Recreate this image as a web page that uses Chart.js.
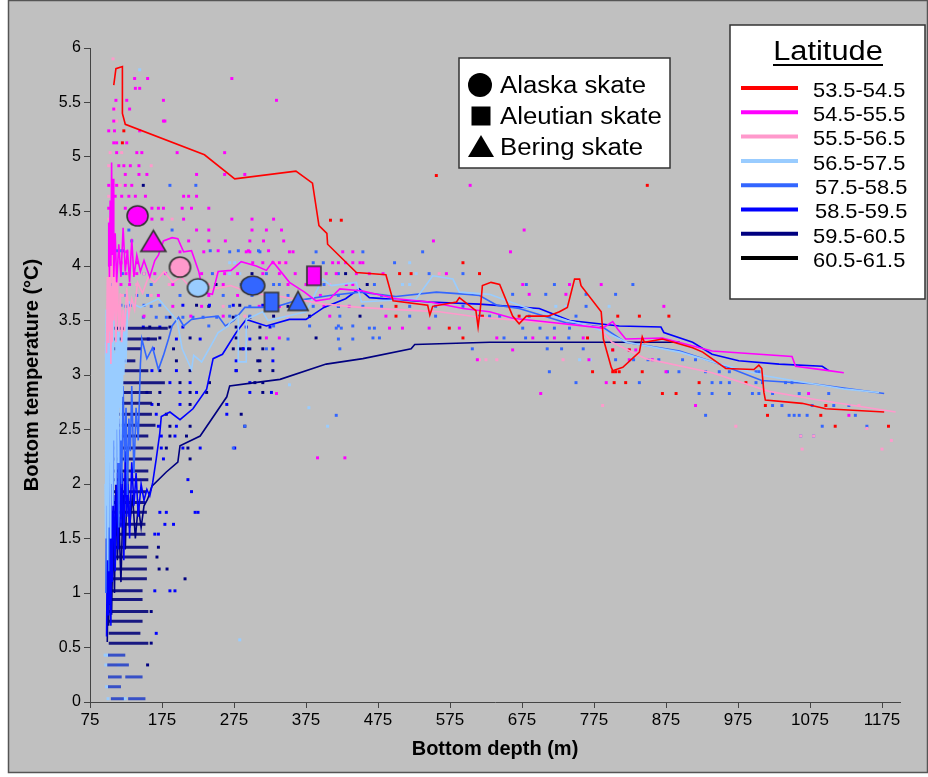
<!DOCTYPE html>
<html>
<head>
<meta charset="utf-8">
<script src="https://cdn.jsdelivr.net/npm/chart.js@4.4.0/dist/chart.umd.min.js"></script>
<style>
  html, body { margin: 0; padding: 0; background: #fff; }
  #chartBox { width: 928px; height: 777px; }
</style>
</head>
<body>
<div id="chartBox"><canvas id="skateChart" width="928" height="777"></canvas></div>
<script>
// ---- axis ticks ----
const depthTicks = [75, 175, 275, 375, 475, 575, 675, 775, 875, 975, 1075, 1175];

// ---- latitude bands ----
const latitudes = ['53.5-54.5', '54.5-55.5', '55.5-56.5', '56.5-57.5', '57.5-58.5', '58.5-59.5', '59.5-60.5', '60.5-61.5'];
const latColors = ['#ff0000', '#ff00ff', '#ff99cc', '#99ccff', '#3366ff', '#0000ff', '#000080', '#000000'];

// ---- running lines, [depth, temperature] ----
const lat53 = [[108,5.66],[111,5.81],[120,5.83],[120,5.40],[124,5.30],[234,5.02],[276,4.80],[361,4.87],[384,4.76],[393,4.37],[404,4.30],[405,4.20],[445,3.94],[486,3.92],[496,3.68],[544,3.64],[547,3.55],[551,3.63],[584,3.67],[588,3.71],[611,3.59],[614,3.44],[617,3.60],[620,3.82],[632,3.85],[644,3.83],[662,3.54],[671,3.47],[681,3.54],[711,3.54],[727,3.58],[738,3.62],[748,3.88],[755,3.88],[757,3.82],[785,3.58],[788,3.33],[799,3.07],[801,3.04],[815,3.07],[838,3.21],[842,3.35],[845,3.30],[870,3.33],[912,3.25],[926,3.21],[958,3.06],[997,3.05],[1004,3.09],[1008,3.06],[1011,2.84],[1013,2.77],[1064,2.74],[1097,2.69],[1178,2.66]];
const lat54 = [[100,4.0],[101,4.4],[102,3.9],[103,4.6],[104,4.0],[105,4.95],[106,4.1],[107,4.8],[108,3.9],[110,4.3],[112,3.85],[115,4.2],[118,3.9],[121,4.35],[124,3.95],[127,4.15],[130,3.85],[133,4.25],[136,3.9],[140,4.1],[145,3.95],[150,4.05],[158,3.9],[165,4.05],[170,4.10],[177,4.23],[189,4.26],[197,4.25],[205,4.13],[216,4.14],[226,3.95],[232,3.76],[245,3.74],[253,3.95],[271,3.96],[285,4.04],[306,4.0],[320,3.96],[329,4.04],[352,3.85],[373,3.76],[389,3.68],[408,3.70],[422,3.79],[454,3.77],[500,3.70],[547,3.67],[593,3.61],[630,3.58],[662,3.52],[720,3.48],[787,3.43],[801,3.49],[808,3.42],[819,3.33],[870,3.34],[939,3.22],[1050,3.17],[1055,3.08],[1101,3.04],[1122,3.02]];
const lat55 = [[98,3.2],[99,3.9],[100,3.3],[101,4.1],[102,3.4],[103,4.0],[104,3.1],[105,3.8],[106,3.3],[107,4.2],[108,3.5],[110,4.0],[111,3.3],[113,3.9],[115,3.4],[117,3.75],[119,3.3],[121,3.6],[123,3.4],[126,3.8],[129,3.55],[133,3.7],[137,3.6],[141,3.85],[148,3.75],[156,3.9],[165,3.85],[178,3.95],[190,3.85],[201,3.9],[215,3.8],[240,3.78],[270,3.82],[300,3.75],[340,3.72],[400,3.65],[450,3.62],[500,3.60],[560,3.58],[616,3.53],[708,3.48],[782,3.44],[800,3.30],[847,3.15],[939,3.02],[1018,2.85],[1078,2.78],[1194,2.66]];
const lat56 = [[96,2.0],[96.5,3.3],[97,1.5],[97.5,3.6],[98,1.8],[99,3.4],[99.5,1.3],[100,3.0],[101,1.6],[101.5,3.6],[102,2.2],[103,3.2],[103.5,1.5],[104,3.5],[105,2.0],[106,3.3],[106.5,1.8],[107,3.6],[108,2.4],[109,3.2],[110,2.0],[111,3.5],[112,2.5],[113,3.4],[114,2.2],[115,3.6],[116,2.7],[117,3.3],[118,2.4],[119,3.5],[120,2.8],[121,3.4],[122,3.0],[124,3.6],[125,3.1],[127,3.55],[129,3.67],[145,3.62],[170,3.70],[196,3.50],[203,3.24],[216,3.05],[219,3.18],[230,3.12],[244,3.28],[253,3.39],[267,3.45],[269,3.48],[281,3.54],[281,3.12],[292,3.12],[292,3.51],[315,3.58],[322,3.50],[375,3.58],[398,3.88],[410,3.82],[445,3.85],[452,3.67],[528,3.70],[551,3.91],[579,3.88],[588,3.76],[630,3.74],[680,3.62],[738,3.50],[770,3.45],[801,3.36],[821,3.30],[894,3.21],[950,3.10],[1014,2.99],[1124,2.87],[1171,2.84]];
const lat57 = [[97,1.0],[98,2.2],[99,1.4],[100,2.6],[101,1.2],[102,2.7],[103,1.5],[105,2.9],[107,1.8],[109,3.0],[111,2.1],[113,2.8],[115,1.6],[117,2.6],[119,2.0],[121,2.9],[123,2.2],[125,2.7],[127,1.9],[129,2.6],[131,2.3],[133,2.9],[136,2.1],[139,2.7],[142,2.4],[145,3.1],[147,3.33],[154,3.15],[162,3.25],[170,3.05],[177,3.18],[184,3.33],[189,3.45],[198,3.53],[205,3.45],[216,3.51],[237,3.53],[253,3.54],[263,3.45],[275,3.50],[290,3.62],[330,3.62],[360,3.68],[408,3.73],[450,3.76],[500,3.72],[556,3.76],[600,3.74],[616,3.73],[640,3.64],[671,3.61],[736,3.48],[787,3.44],[819,3.30],[894,3.22],[949,3.10],[1008,2.95],[1078,2.92],[1178,2.83]];
const lat58 = [[98,0.6],[99,1.4],[100,0.8],[101,1.8],[102,0.9],[103,1.6],[104,0.7],[105,2.0],[106,1.1],[108,1.9],[110,1.2],[112,2.2],[114,1.4],[116,2.5],[118,1.6],[120,2.1],[122,1.3],[124,2.3],[126,1.7],[128,2.0],[130,1.5],[133,2.2],[136,1.8],[139,2.1],[142,1.7],[146,2.0],[150,1.85],[154,1.95],[158,1.89],[162,2.01],[167,2.23],[172,2.47],[174,2.62],[186,2.66],[200,2.59],[218,2.69],[237,2.87],[246,3.15],[259,3.19],[278,3.39],[292,3.51],[320,3.45],[352,3.51],[375,3.51],[400,3.62],[430,3.70],[449,3.79],[463,3.71],[547,3.67],[616,3.65],[699,3.61],[741,3.50],[810,3.45],[868,3.44],[872,3.39],[912,3.30],[939,3.19],[976,3.13],[1032,3.10],[1092,3.08],[1101,3.04]];
const lat59 = [[99,0.55],[100,1.2],[101,0.7],[102,1.5],[103,0.9],[104,1.8],[105,0.8],[107,1.6],[109,1.0],[111,2.0],[113,1.3],[115,1.7],[118,1.1],[121,1.9],[124,1.4],[127,2.1],[130,1.6],[134,1.9],[138,1.5],[142,1.8],[146,1.6],[150,1.8],[155,1.86],[161,1.98],[181,2.11],[197,2.20],[200,2.35],[228,2.44],[265,2.80],[269,2.90],[304,2.93],[339,2.96],[403,3.10],[454,3.15],[521,3.24],[526,3.28],[630,3.30],[894,3.30]];
const lat60 = [];

// ---- single tows, rows of [temperature, [depths]] ----
const dots53 = [[5.24,[122]],[5.13,[120]],[4.83,[556]],[4.74,[849]],[4.42,[409,424]],[4.03,[593]],[3.93,[505,521,616]],[3.63,[500]],[3.54,[500,620,671,808,838,879]],[3.43,[574]],[3.34,[593,766]],[3.23,[801,824]],[3.03,[773,801,805,810,842]],[2.93,[803,819,921,986]],[2.83,[870,889]],[2.72,[1013,1097]],[2.63,[1016,1090]],[2.53,[1110,1184]]];
const dots54 = [[6.03,[117]],[5.72,[137,155,272]],[5.63,[138,144]],[5.52,[111,126,177,334]],[5.44,[108,130]],[5.33,[108,177,179]],[5.24,[101,109,144]],[5.13,[108,112,126]],[5.04,[112,140,147,196,262]],[4.92,[115,122,131,143]],[4.84,[124,143,154,223,262,290]],[4.74,[101,112,124,133,603]],[4.64,[110,119,129,138,152,205,212,223]],[4.53,[101,124,161,170,177,203,216,240]],[4.43,[161,175,205,272,300,330]],[4.33,[223,240,300,320,341,678]],[4.23,[212,240,263,297,316,344,552]],[4.14,[106,253,295,323]],[4.13,[126,200,233,292,297,352,357,426,440,659]],[4.03,[118,125,140,301,315,329,338,347,412,420,430,440,450,454]],[3.93,[110,125,140,165,180,200,230,262,280,315,338,360,403,417,445,463,482,570]],[3.83,[118,130,190,215,260,300,350,375,431,440,676,741,785]],[3.74,[685,736]],[3.73,[170,240,280,320,395]],[3.63,[190,230,310,338,360,400,435,872]],[3.54,[150,215,260,408,486]],[3.43,[491,509,546,588]],[3.34,[320,338,640,690,720,760]],[3.23,[662,801,824,833]],[3.14,[613,768,824,856]],[3.03,[875]],[2.93,[792]],[2.83,[334,701,1073]],[2.72,[916]],[2.63,[1129]],[2.24,[391,429]]];
const dots55 = [[5.9,[107]],[5.44,[110]],[5.33,[112]],[5.04,[103,119]],[4.92,[101,160]],[4.74,[117]],[4.64,[101]],[4.43,[101,189]],[4.03,[334,343]],[3.93,[135,150,250,560]],[3.83,[140,185,240,408]],[3.73,[120,160,220]],[3.63,[260,340]],[3.54,[290,350]],[3.14,[616,625,640,732]],[2.72,[787,1143]],[2.53,[972]],[2.51,[1154]],[2.44,[1062,1080]],[2.40,[1188]],[2.32,[1064,1175]]];
const dots56 = [[5.8,[144]],[4.03,[269,276,283,519]],[3.93,[269,283,528]],[3.83,[509,519]],[3.63,[722,736,796]],[3.14,[755,770]],[2.91,[352]],[2.70,[379]],[2.53,[405]],[0.57,[283]],[0.43,[96,99]],[0.34,[97,115]],[0.14,[98]],[0.03,[100,122,124]]];
const dots57 = [[4.74,[186,222]],[4.43,[140]],[4.33,[129,189]],[4.23,[133]],[4.14,[107,112,119,121,242,281,309]],[4.13,[269,311,389,454,537]],[4.03,[385,399,498]],[3.93,[120,150,245,320,390,420,546,593]],[3.83,[106,160,230,285,330,338,400,470,681,720,829]],[3.74,[662,708,764,805]],[3.73,[110,125,140,155,200,260,300,350,420,480]],[3.64,[105,118,131,150,172]],[3.63,[125,160,269,297,330,385,420,454,480,519,555,593,764]],[3.54,[269,278,297,422,519,555,616,630,644,685,713,750]],[3.53,[149,167,181,204,218,232,251]],[3.45,[240,330,380,420,440]],[3.43,[417,424,463,470,676,700,720,741]],[3.34,[468,477,650,680,710,740]],[3.33,[350,420,440]],[3.24,[320,422,606,710,730,760]],[3.14,[805,830,850,865,898,916]],[3.03,[713,877,893,930,949,963,1000,1004]],[2.93,[750,838,939,951,963,1000,1009,1041,1050]],[2.83,[921,939,963,995,1004,1023,1060,1101]],[2.72,[1023,1036,1078,1108,1129]],[2.63,[417,930,1046,1053,1060,1071,1138]],[2.53,[290,1092,1154]],[2.44,[1062,1080]],[2.33,[274]]];
const dots58 = [[3.64,[204,241,274,315]],[3.44,[149,172,204,292,325]],[3.33,[156,195,228,297]],[3.24,[163,288,329]],[3.13,[278,329]],[3.04,[161,195,278]],[2.93,[186,214,297]],[2.84,[154,200,223,297,327]],[2.73,[161,200,265]],[2.64,[167,265]],[2.53,[170,195]],[2.44,[174,193]],[2.33,[174,204,228,276]],[2.23,[177]],[2.04,[211]],[1.93,[216]],[1.74,[172,181,221,225]],[1.63,[179,191]],[1.54,[165,170]],[1.02,[165,186,193]],[0.63,[167]]];
const dots59 = [[4.74,[149]],[3.93,[300,430]],[3.83,[250,460]],[3.64,[223,283]],[3.63,[240,350,420]],[3.54,[330,380,450]],[3.53,[186,274,297]],[3.44,[158,186,278,311]],[3.34,[172,214,278,311,389]],[3.24,[191,274,283,287,294,297,315]],[3.13,[195,308,311]],[3.04,[172,214,278,311,329]],[2.93,[200,241,304,315]],[2.84,[172,214,237,315]],[2.73,[170,214]],[2.64,[181,285]],[2.53,[186,214,290]],[2.44,[186,209]],[2.33,[181,211]],[2.23,[214]],[1.42,[170]],[1.33,[168]],[1.22,[171,182]],[1.13,[207]],[0.83,[160]],[0.54,[160]],[0.34,[155]]];

// packed runs of tows on the shelf, [temperature, first depth, last depth]
const shelfRuns = [[3.43,105,183],[3.33,105,168],[3.24,101,147],[3.13,105,138],[3.04,96,156],[2.93,96,179],[2.84,96,161],[2.74,96,161],[2.64,105,161],[2.54,105,166],[2.44,105,156],[2.33,105,163],[2.23,105,161],[2.12,105,156],[2.04,101,156],[1.93,101,153],[1.83,101,152],[1.74,101,154],[1.63,101,152],[1.54,101,152],[1.42,101,156],[1.33,101,154],[1.22,101,154],[1.13,101,154],[1.02,101,148],[0.94,101,148],[0.83,101,156],[0.74,101,148],[0.63,101,145],[0.54,101,156],[0.43,100,124],[0.34,99,129],[0.23,100,119],[0.23,124,148],[0.14,100,118],[0.03,104,122],[0.03,128,152]];

// ---- skate means ----
const skateNames = ['Alaska skate', 'Aleutian skate', 'Bering skate'];
const skateKind = ['Alaska skate', 'Bering skate', 'Alaska skate', 'Alaska skate', 'Alaska skate', 'Aleutian skate', 'Bering skate', 'Aleutian skate'];
const skateBand = [1, 1, 2, 3, 4, 4, 4, 1];
const skateDepth = [141, 163, 200, 225, 301, 327, 364, 386];
const skateTemp = [4.46, 4.23, 3.99, 3.80, 3.82, 3.67, 3.68, 3.91];

const FONT = '"Liberation Sans", Arial, sans-serif';
const NARROW = '"Liberation Sans Narrow", "Liberation Sans", Arial, sans-serif';

const toXY = arr => arr.map(([x, y]) => ({ x, y }));
const rowsToXY = rows => rows.flatMap(([t, ds]) => ds.map(d => ({ x: d, y: t })));

function markerImage(kind, band) {
    // sizes roughly as in the figure
    let w = 21, h = 20;
    if (kind === 'Aleutian skate') { w = 14; h = 19; }
    if (kind === 'Bering skate') { w = band === 1 ? 25 : 20; h = band === 1 ? 21 : 19; }
    if (kind === 'Alaska skate' && band === 3) { w = 21; h = 18; }
    if (kind === 'Alaska skate' && band === 4) { w = 24; h = 19; }
    const c = document.createElement('canvas');
    c.width = w + 4; c.height = h + 4;
    const g = c.getContext('2d');
    g.fillStyle = latColors[band];
    g.strokeStyle = '#333';
    g.lineWidth = 1.6;
    g.beginPath();
    if (kind === 'Alaska skate') {
        g.ellipse(c.width / 2, c.height / 2, w / 2, h / 2, 0, 0, Math.PI * 2);
    } else if (kind === 'Aleutian skate') {
        g.rect(2, 2, w, h);
    } else {
        g.moveTo(c.width / 2, 2);
        g.lineTo(c.width - 2, c.height - 2);
        g.lineTo(2, c.height - 2);
        g.closePath();
    }
    g.fill();
    g.stroke();
    return c;
}

const datasets = [];

datasets.push({
    label: 'skates',
    data: skateDepth.map((d, i) => ({ x: d, y: skateTemp[i] })),
    pointStyle: skateKind.map((k, i) => markerImage(k, skateBand[i])),
    pointRadius: 10,
    showLine: false,
    order: 0
});

[lat53, lat54, lat55, lat56, lat57, lat58, lat59, lat60].forEach((arr, i) => {
    datasets.push({
        label: latitudes[i],
        data: toXY(arr),
        showLine: true,
        borderColor: latColors[i],
        borderWidth: 1.6,
        pointRadius: 0,
        tension: 0,
        order: 1 + i
    });
});

shelfRuns.forEach(([t, a, b], i) => {
    datasets.push({
        label: 'run' + i,
        data: [{ x: a, y: t }, { x: b, y: t }],
        showLine: true,
        borderColor: t < 0.5 ? 'rgba(30,60,200,0.85)' : 'rgba(0,0,120,0.88)',
        borderWidth: 3,
        pointRadius: 0,
        order: 20
    });
});

[dots53, dots54, dots55, dots56, dots57, dots58, dots59].forEach((rows, i) => {
    datasets.push({
        label: 'dots ' + latitudes[i],
        data: rowsToXY(rows),
        showLine: false,
        pointStyle: 'rect',
        pointRadius: 2.1,
        pointBorderWidth: 0,
        backgroundColor: latColors[i],
        borderColor: latColors[i],
        order: 30 + i
    });
});

function stretchText(ctx, text, x, y, sx) {
    ctx.save();
    ctx.translate(x, y);
    ctx.scale(sx, 1);
    ctx.fillText(text, 0, 0);
    ctx.restore();
}

const decor = {
    id: 'decor',
    beforeDraw(chart) {
        const ctx = chart.ctx;
        ctx.save();
        ctx.fillStyle = '#ffffff';
        ctx.fillRect(0, 0, chart.width, chart.height);
        ctx.fillStyle = '#c0c0c0';
        ctx.fillRect(8, 0, chart.width - 8, 773);
        ctx.strokeStyle = '#555';
        ctx.lineWidth = 1.5;
        ctx.strokeRect(8.5, 0.5, chart.width - 9, 772);
        ctx.restore();
    },
    afterDraw(chart) {
        const ctx = chart.ctx;
        ctx.save();

        // latitude key
        ctx.fillStyle = '#fff';
        ctx.fillRect(730, 25, 195, 274);
        ctx.strokeStyle = '#333';
        ctx.lineWidth = 1.5;
        ctx.strokeRect(730, 25, 195, 274);
        ctx.fillStyle = '#000';
        ctx.font = '27px ' + FONT;
        ctx.textAlign = 'center';
        ctx.textBaseline = 'alphabetic';
        stretchText(ctx, 'Latitude', 828, 60, 1.14);
        ctx.fillRect(773, 64, 110, 2);
        ctx.textAlign = 'left';
        ctx.textBaseline = 'middle';
        ctx.font = '21px ' + FONT;
        latitudes.forEach((lab, i) => {
            const y = 88 + i * 24.3;
            ctx.strokeStyle = latColors[i];
            ctx.lineWidth = 4;
            ctx.beginPath();
            ctx.moveTo(741, y);
            ctx.lineTo(798, y);
            ctx.stroke();
            ctx.fillStyle = '#000';
            stretchText(ctx, lab, (i === 4 || i === 5) ? 815 : 813, y + 3, 1.04);
        });

        // species key
        ctx.fillStyle = '#fff';
        ctx.fillRect(459, 58, 211, 110);
        ctx.strokeStyle = '#333';
        ctx.lineWidth = 1.5;
        ctx.strokeRect(459, 58, 211, 110);
        ctx.fillStyle = '#000';
        ctx.beginPath();
        ctx.arc(480, 85, 12, 0, Math.PI * 2);
        ctx.fill();
        ctx.fillRect(471.5, 106.5, 19, 19);
        ctx.beginPath();
        ctx.moveTo(481, 135);
        ctx.lineTo(494, 157);
        ctx.lineTo(468, 157);
        ctx.closePath();
        ctx.fill();
        ctx.font = '23px ' + FONT;
        ctx.textAlign = 'left';
        ctx.textBaseline = 'alphabetic';
        skateNames.forEach((n, i) => stretchText(ctx, n, 500, 93 + i * 31, 1.12));

        ctx.restore();
    }
};

new Chart(document.getElementById('skateChart'), {
    type: 'scatter',
    data: { datasets },
    options: {
        responsive: false,
        devicePixelRatio: 1,
        animation: false,
        layout: { padding: { left: 16, right: 28, top: 48, bottom: 12 } },
        plugins: { legend: { display: false }, tooltip: { enabled: false } },
        scales: {
            x: {
                type: 'linear',
                min: 75,
                max: 1200,
                afterBuildTicks: s => { s.ticks = depthTicks.map(v => ({ value: v })); },
                afterFit: s => { s.height = 63; },
                grid: { drawOnChartArea: false, drawTicks: true, tickLength: 6, color: '#444' },
                border: { color: '#444', width: 1 },
                ticks: { color: '#000', font: { family: NARROW, size: 17 }, padding: 2, maxRotation: 0, autoSkip: false, callback: v => String(v) },
                title: { display: true, text: 'Bottom depth (m)', color: '#000', font: { family: FONT, size: 20, weight: 'bold' } }
            },
            y: {
                min: 0,
                max: 6,
                afterFit: s => { s.width = 74; },
                grid: { drawOnChartArea: false, drawTicks: true, tickLength: 6, color: '#444' },
                border: { color: '#444', width: 1 },
                ticks: { stepSize: 0.5, color: '#000', font: { family: FONT, size: 16 }, padding: 3, callback: v => String(v) },
                title: { display: true, text: 'Bottom temperature (°C)', color: '#000', font: { family: FONT, size: 20, weight: 'bold' } }
            }
        }
    },
    plugins: [decor]
});
</script>
</body>
</html>
